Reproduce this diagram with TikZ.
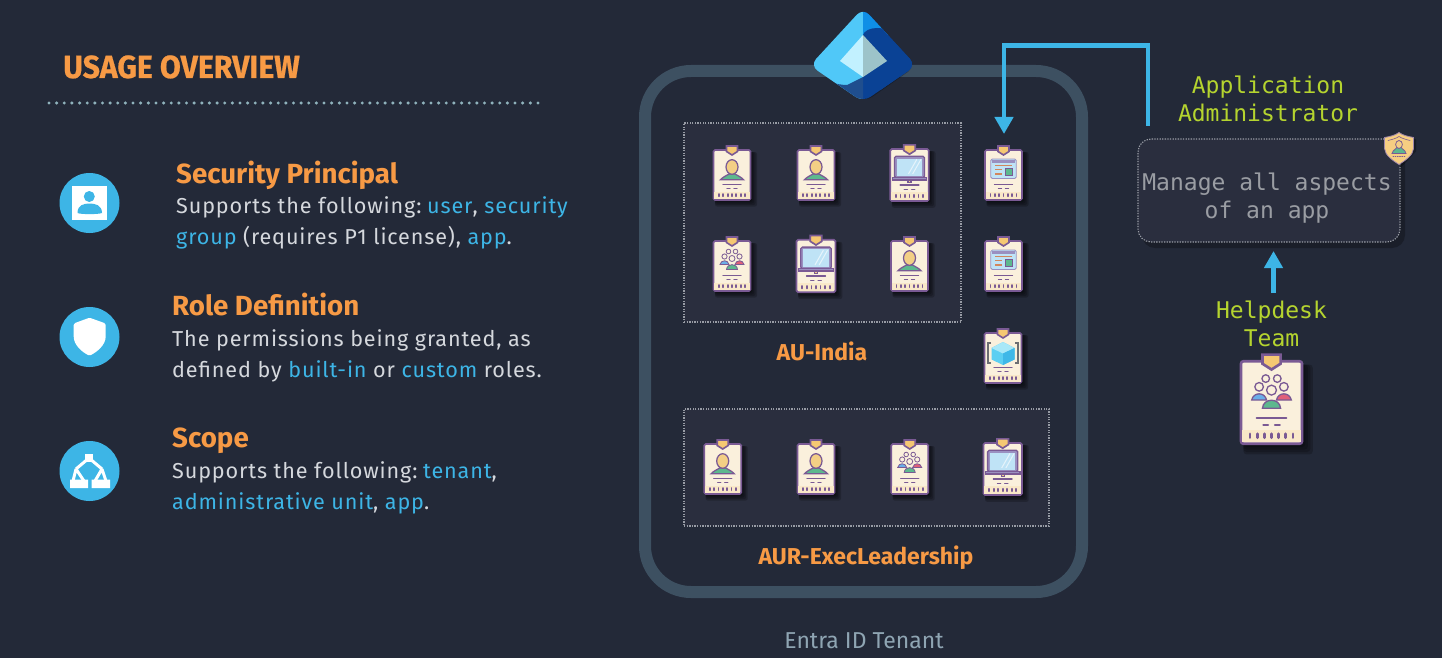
\documentclass[tikz,border=0pt]{standalone}
\usepackage{fontspec}
\setmainfont{Fira Sans}
\newfontfamily\headf{Fira Sans}[UprightFont=* SemiBold,BoldFont=* Bold]
\newfontfamily\titlef{Fira Sans}[UprightFont=* Bold,FakeStretch=0.945,FakeBold=0.6]
\newfontfamily\bodyf{Fira Sans}[LetterSpace=4]
\newfontfamily\monof{DejaVu Sans Mono}
\usetikzlibrary{arrows.meta,calc}
\definecolor{bgc}{HTML}{232938}
\definecolor{panel}{HTML}{2A2E3E}
\definecolor{dotc}{HTML}{989CA5}
\definecolor{rulec}{HTML}{8FB2BC}
\definecolor{tenant}{HTML}{3D5061}
\definecolor{sky}{HTML}{3DB5E6}
\definecolor{orangeh}{HTML}{F79A45}
\definecolor{bodyc}{HTML}{D5D8DD}
\definecolor{limec}{HTML}{B5D42F}
\definecolor{greytxt}{HTML}{9A9DA3}
\definecolor{tenanttxt}{HTML}{8FA5B3}
\definecolor{cpurple}{HTML}{7A5A94}
\definecolor{cream}{HTML}{FAF0DC}
\definecolor{creamb}{HTML}{F9E8C8}
\definecolor{cclip}{HTML}{F5C872}
\definecolor{skin}{HTML}{F3CF85}
\definecolor{cgreen}{HTML}{5DB88E}
\definecolor{cscreen}{HTML}{BFE3F6}
\definecolor{cframe}{HTML}{9A90C0}
\definecolor{logoa}{HTML}{50C8F8}
\definecolor{logob}{HTML}{0A4295}
\definecolor{logoc}{HTML}{0F8FE6}
\definecolor{logod}{HTML}{1F4E8E}
\definecolor{logoe}{HTML}{C2F1FF}
\definecolor{logof}{HTML}{9DC3C9}
\definecolor{pblue}{HTML}{6BAEE8}
\definecolor{pred}{HTML}{E0607A}
\definecolor{cubea}{HTML}{A8E8F8}
\definecolor{cubeb}{HTML}{5CCFF2}
\definecolor{cubec}{HTML}{3FB8E8}
\tikzset{
  x=1pt,y=-1pt,
  heading/.style={anchor=base west,inner sep=0pt,text=orangeh,font=\headf\bfseries\fontsize{27.7}{32}\selectfont},
  bodytext/.style={anchor=north west,inner sep=0pt,align=left,text=bodyc,font=\bodyf\fontsize{21.6}{31}\selectfont},
  monotext/.style={inner sep=0pt,align=center,font=\monof\fontsize{23}{28}\selectfont},
  aulabel/.style={inner sep=0pt,anchor=base,text=orangeh,font=\headf\bfseries\fontsize{23}{28}\selectfont},
  dotted box/.style={draw=dotc,fill=panel,line width=1.1pt,dash pattern=on 1.3pt off 1.3pt},
  flow/.style={draw=sky,line width=4.5pt,-{Triangle[width=18pt,length=17pt]}},
  icondisc/.style={circle,fill=sky,minimum size=60pt,inner sep=0pt},
  cardln/.style={draw=cpurple,line width=\cardk*1.25pt,line cap=round},
  cardth/.style={draw=cpurple,line width=\cardk*.8pt,line cap=round},
}
\newcommand{\link}[1]{\textcolor{sky}{#1}}
% ---- card contents, drawn on a card 37 wide and 50 high centred on the origin
\newcommand{\cperson}{%
  \filldraw[cardln,fill=cgreen] (-11.5,4.7) .. controls (-8.5,1.5) and (-6,1) .. (-3,-1) -- (3,-1) .. controls (6,1) and (8.5,1.5) .. (11.5,4.7) -- cycle;
  \filldraw[cardln,fill=skin] (0,-8) ellipse[x radius=6,y radius=7.3];
}
\newcommand{\claptop}{%
  \filldraw[cardln,fill=cframe,rounded corners=\cardk*1.5pt] (-14.5,-18) rectangle (14.5,2.5);
  \fill[cscreen] (-12,-15.8) rectangle (12,0.5);
  \draw[white,opacity=.6,line width=\cardk*1pt] (-1,-1) -- (7,-15) (3,-1) -- (11,-15);
  \filldraw[cardln,fill=cframe] (-16.5,2.5) rectangle (16.5,4.7);
  \filldraw[cardln,fill=skin] (-1.5,4.7) rectangle (1.5,7);
}
\newcommand{\cgroupfig}{%
  \draw[cardth,fill=cream] (-3.5,-14.5) circle[radius=2.3] (3.5,-14.5) circle[radius=2.3];
  \filldraw[cardth,fill=cream] (-7.5,-9.5) circle[radius=2.6] (7.5,-9.5) circle[radius=2.6];
  \filldraw[cardth,fill=pblue] (-12,-1.5) .. controls (-11,-6.5) and (-4,-6.5) .. (-3,-1.5) -- cycle;
  \filldraw[cardth,fill=pred] (3,-1.5) .. controls (4,-6.5) and (11,-6.5) .. (12,-1.5) -- cycle;
  \filldraw[cardth,fill=cream] (0,-7.5) circle[radius=3];
  \filldraw[cardth,fill=cgreen] (-5.5,3.5) .. controls (-5,-3) and (5,-3) .. (5.5,3.5) -- cycle;
}
\newcommand{\capp}{%
  \filldraw[cardth,draw=cframe,fill=cscreen,rounded corners=\cardk*1.5pt] (-12.7,-16) rectangle (12.7,3.5);
  \fill[cframe] (-11.5,-15) rectangle (11.5,-12.5);
  \draw[orangeh!70!cpurple,line width=\cardk*1.3pt] (-8.5,-9.5) -- (8.5,-9.5);
  \draw[orangeh!70!cpurple,line width=\cardk*1.3pt] (-8.5,-5.5) -- (-1.5,-5.5) (-8.5,-1) -- (-1.5,-1);
  \filldraw[cardth,fill=cgreen] (1.5,-6.5) rectangle (9,0);
}
\newcommand{\ccube}{%
  \draw[greytxt!70!black,line width=\cardk*1.5pt] (-12,-15) -- (-15,-15) -- (-15,5) -- (-12,5) (12,-15) -- (15,-15) -- (15,5) -- (12,5);
  \fill[cubeb] (0,-16) -- (11.5,-10) -- (11.5,1.5) -- (0,7) -- (-11.5,1.5) -- (-11.5,-10) -- cycle;
  \fill[cubea] (0,-16) -- (11.5,-10) -- (0,-4.5) -- (-11.5,-10) -- cycle;
  \fill[cubec] (0,-4.5) -- (11.5,-10) -- (11.5,1.5) -- (0,7) -- cycle;
}
% name, x, y, scale, contents macro
\newcommand{\idcard}[5]{%
  \coordinate (#1) at (#2,#3);
  \begin{scope}[shift={(#2,#3)},scale=#4]
    \def\cardk{#4}
    \foreach \k in {6.5,5,3.5,2}
      \fill[black,opacity=.2,rounded corners=\cardk*2pt] (-17,-23) rectangle (18.5+\k,25+\k);
    \filldraw[cardln,line width=\cardk*1.6pt,fill=cream,rounded corners=\cardk*1.5pt] (-18.5,-25) rectangle (18.5,25);
    \fill[creamb] (-17.6,16.5) rectangle (17.6,24.1);
    \filldraw[cardln,line width=\cardk*1.6pt,fill=cclip] (-5.5,-29) -- (5.5,-29) -- (5.5,-23.5) -- (0,-20) -- (-5.5,-23.5) -- cycle;
    #5
    \draw[cardln] (-9,9.5) -- (9,9.5);
    \draw[cardln] (-5,13.7) -- (-2,13.7) (2,13.7) -- (5,13.7);
    \foreach \tx in {-13,-8.7,-4.3,0,4.3,8.7,13}
      \draw[cardln,line width=\cardk*1.7pt] (\tx,19) -- (\tx,21.3);
  \end{scope}
}
\begin{document}
\begin{tikzpicture}
\useasboundingbox (0,0) rectangle (1442,658);
\fill[bgc] (0,0) rectangle (1442,658);

% left column
\node[anchor=base west,inner sep=0pt,text=orangeh,font=\titlef\fontsize{32}{36}\selectfont] (title) at (63,78) {USAGE OVERVIEW};
\coordinate (ruleL) at (49,103);
\coordinate (ruleR) at (538.5,103);
\draw[line width=3.4pt,line cap=round,dash pattern=on 0pt off 7.64pt,draw=rulec] (ruleL) -- (ruleR);

\node[icondisc] (ic1) at (89.5,203) {};
\fill[white] (72,185.5) rectangle (106.5,220);
\fill[sky] (89.3,196.5) circle[radius=5.5];
\fill[sky] (77.5,213) .. controls (77.5,205) and (84,203.5) .. (89.5,203.5) .. controls (95,203.5) and (102,205) .. (102,213) .. controls (98,214.5) and (81,214.5) .. (77.5,213) -- cycle;

\node[icondisc] (ic2) at (89.5,337) {};
\fill[white,rounded corners=1.5pt] (89.5,317.7) -- (105.7,323.5) -- (105.7,335)
   .. controls (105.7,345) and (97,352) .. (89.5,355.7)
   .. controls (82,352) and (73.7,345) .. (73.7,335) -- (73.7,323.5) -- cycle;

\node[icondisc] (ic3) at (89.5,471) {};
\draw[white,line width=3pt] (89,458) -- (76,469) (89,458) -- (102,469)
   (76,469) -- (73,481) (76,469) -- (84,481) (102,469) -- (95,481) (102,469) -- (106,481);
\fill[white] (85,454) rectangle (93,461.5);
\fill[white] (70,479.5) rectangle (88,488) (91.5,479.5) rectangle (110,488);

\node[heading] (h1) at (176,183.5) {Security Principal};
\node[bodytext] (b1) at (176,196) {Supports the following:\kern-3pt{} \link{user}, \link{security}\\\link{group} (requires P1 license), \link{app}.};
\node[heading] (h2) at (172,315.5) {Role Definition};
\node[bodytext] (b2) at (172,329) {The permissions being granted, as\\defined by \link{built-in} or \link{custom} roles.};
\node[heading] (h3) at (172,447.5) {Scope};
\node[bodytext] (b3) at (172,461) {Supports the following:\kern-3pt{} \link{tenant},\\\link{administrative unit}, \link{app}.};

% tenant
\draw[tenant,line width=12pt,rounded corners=46pt] (645,71) rectangle (1082,592);
\node[inner sep=0pt,anchor=base,text=tenanttxt,font=\fontsize{23}{28}\selectfont] (tenantlabel) at (864,648) {Entra ID Tenant};

% Entra logo
\coordinate (logo) at (863,55);
\fill[black,opacity=.25,rounded corners=9pt] (865,13) -- (915,67) -- (865,102) -- (817,67) -- cycle;
\begin{scope}
  \clip[rounded corners=9pt] (863,8) -- (916,65.5) -- (863,102) -- (810,65.5) -- cycle;
  \fill[logoa] (800,0) rectangle (863,110);
  \fill[logob] (863,0) rectangle (925,110);
  \fill[logoc] (863,0) rectangle (925,35) ;
  \fill[logob] (863,35) .. controls (864,31) and (870,28) .. (877,28) .. controls (885,28) and (895,30) .. (925,60) -- (925,90) -- (863,90) -- cycle;
  \fill[logod] (863,77) -- (847,85) .. controls (842,85) and (836,84) .. (830,82) -- (800,100) -- (863,110) -- cycle;
\end{scope}
\fill[logoe] (863,35) -- (840,61) -- (863,77) -- cycle;
\fill[logof] (863,35) -- (887,61) -- (863,77) -- cycle;

% panels
\node[dotted box,minimum width=277pt,minimum height=199pt,inner sep=0pt] (auindia) at (822.5,222.5) {};
\node[dotted box,minimum width=365pt,minimum height=117pt,inner sep=0pt] (aur) at (866.5,467.5) {};
\node[aulabel] (auindial) at (822,360) {AU-India};
\node[aulabel] (aurl) at (866,564) {AUR-ExecLeadership};

% cards
\idcard{c11}{732}{175}{1}{\cperson}
\idcard{c12}{816}{175}{1}{\cperson}
\idcard{c13}{909.5}{175}{1.04}{\claptop}
\idcard{c14}{1003.5}{175}{1}{\capp}
\idcard{c21}{732}{266}{1}{\cgroupfig}
\idcard{c22}{816}{266}{1.05}{\claptop}
\idcard{c23}{909.5}{266}{1}{\cperson}
\idcard{c24}{1003.5}{266}{1}{\capp}
\idcard{c34}{1003}{358}{1}{\ccube}
\idcard{c41}{722.7}{469}{1}{\cperson}
\idcard{c42}{816}{469}{1}{\cperson}
\idcard{c43}{909.7}{469}{1}{\cgroupfig}
\idcard{c44}{1002.7}{469}{1.04}{\claptop}

% administrator box
\fill[black,opacity=.25,rounded corners=13pt] (1142,146) rectangle (1405,248);
\node[dotted box,rounded corners=13pt,minimum width=262pt,minimum height=103pt,inner sep=0pt] (appbox) at (1269,190.5) {};
\node[monotext,text=greytxt] (appboxt) at (1267,198) {Manage all aspects\\of an app};
\node[monotext,text=limec] (admin) at (1268,99) {Application\\Administrator};
\node[monotext,text=limec] (helpdesk) at (1271.5,324) {Helpdesk\\Team};

% shield
\coordinate (shield) at (1399,148);
\begin{scope}[shift={(1399,148.5)}]
  \def\cardk{.6}
  \fill[black,opacity=.3] (2,-13) -- (17,-9) -- (17,3) -- (2,19) -- (-12,3) -- cycle;
  \filldraw[draw=cpurple!70!cream,line width=.8pt,fill=cclip!85!cream] (0,-16) .. controls (4,-13) and (9,-12) .. (14.5,-11) -- (14.5,0) .. controls (14,7) and (6,12) .. (0,16) .. controls (-6,12) and (-14,7) .. (-14.5,0) -- (-14.5,-11) .. controls (-9,-12) and (-4,-13) .. (0,-16) -- cycle;
  \draw[cardln,line width=.6pt] (-11,-8) .. controls (-7,-9) and (-3,-10) .. (0,-12) .. controls (3,-10) and (7,-9) .. (11,-8);
  \filldraw[cardln,fill=cgreen] (-7,5) .. controls (-6,1) and (-3,1) .. (-2,-1) -- (2,-1) .. controls (3,1) and (6,1) .. (7,5) -- cycle;
  \filldraw[cardln,fill=skin] (0,-4) ellipse[x radius=3.4,y radius=4];
  \draw[cardln,dash pattern=on .8pt off 1.4pt] (-6,8) -- (6,8);
\end{scope}

\idcard{team}{1271.5}{402.5}{1.65}{\cgroupfig}

% connectors
\coordinate (adminout) at (1148,126);
\coordinate (cornerR) at (1148,45.5);
\coordinate (cornerL) at (1004,45.5);
\coordinate (apptip) at (1004,134);
\draw[flow] (adminout) -- (cornerR) -- (cornerL) -- (apptip);
\coordinate (hdtop) at (1273.5,293);
\coordinate (boxbot) at (1273.5,251);
\draw[flow] (hdtop) -- (boxbot);
\end{tikzpicture}
\end{document}
